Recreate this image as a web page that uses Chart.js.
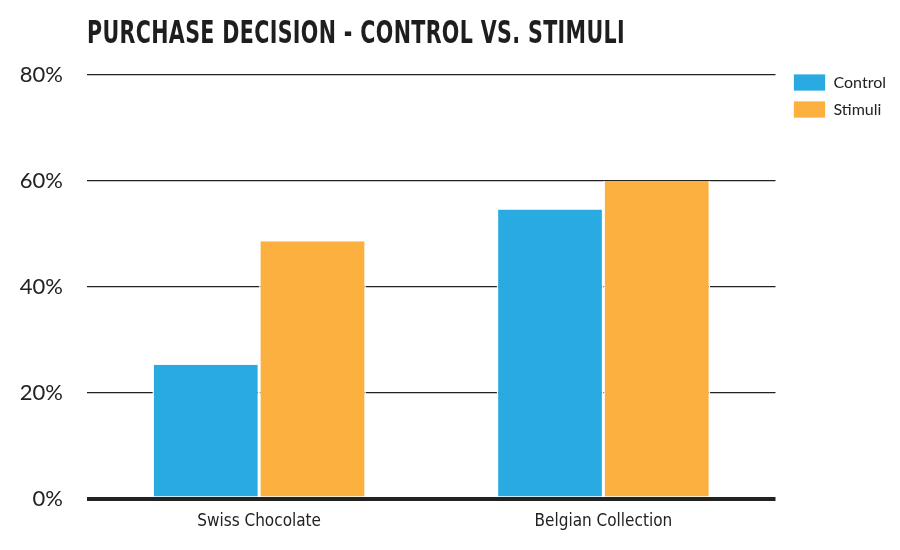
<!DOCTYPE html>
<html>
<head>
<meta charset="utf-8">
<script src="https://cdn.jsdelivr.net/npm/chart.js@4"></script>
<style>
  html,body{margin:0;padding:0;background:#fff;}
  #wrap{position:relative;width:900px;height:550px;}
  #title{position:absolute;left:87px;top:13px;font-family:"DejaVu Sans Condensed","DejaVu Sans",sans-serif;font-weight:bold;font-size:32px;color:#1e1e1e;white-space:nowrap;transform-origin:0 0;letter-spacing:0.5px;}
  canvas{position:absolute;left:0;top:0;}
</style>
</head>
<body>
<div id="wrap">
  <canvas id="c" width="900" height="550"></canvas>
  <div id="title">PURCHASE DECISION - CONTROL VS. STIMULI</div>
</div>
<script>
const categories = ["Swiss Chocolate", "Belgian Collection"];
const controlValues = [25.3, 54.6];
const stimuliValues = [48.6, 60.0];
const seriesNames = ["Control", "Stimuli"];
const yTicks = [0, 20, 40, 60, 80];

const t = document.getElementById('title');
const w = t.getBoundingClientRect().width;
t.style.transform = 'scaleX(' + (538 / w) + ')';

const legendShift = {
  id: 'legendShift',
  afterLayout(chart) {
    if (chart.legend) { chart.legend.top -= 11; chart.legend.bottom -= 11; }
  }
};

new Chart(document.getElementById('c'), {
  type: 'bar',
  data: {
    labels: categories,
    datasets: [
      {label: seriesNames[0], data: controlValues, backgroundColor: '#29abe2', borderColor: '#ffffff', borderWidth: {left:1.5,right:1.5,top:0,bottom:0}, borderSkipped: false},
      {label: seriesNames[1], data: stimuliValues, backgroundColor: '#fbb040', borderColor: '#ffffff', borderWidth: {left:1.5,right:1.5,top:0,bottom:0}, borderSkipped: false}
    ]
  },
  plugins: [legendShift],
  options: {
    responsive: false,
    animation: false,
    layout: {padding: {top: 75, right: 4, left: 0, bottom: 13}},
    datasets: {bar: {categoryPercentage: 0.62, barPercentage: 1.0}},
    plugins: {
      title: {display: false},
      tooltip: {enabled: false},
      legend: {
        position: 'right',
        align: 'start',
        labels: {
          boxWidth: 32, boxHeight: 17, padding: 10,
          color: '#222',
          font: {family: 'Lato, "Open Sans", sans-serif', size: 16}
        }
      }
    },
    scales: {
      x: {
        grid: {display: false},
        border: {display: false},
        ticks: {color: '#222', padding: 5, font: {family: '"Liberation Sans Narrow", "DejaVu Sans Condensed", Lato, sans-serif', size: 17}}
      },
      y: {
        min: 0, max: 80,
        afterBuildTicks: (axis) => { axis.ticks = yTicks.map(v => ({value: v})); },
        afterFit: (s) => { s.width = 87; },
        border: {display: false},
        grid: {
          drawTicks: false,
          color: '#222',
          lineWidth: (ctx) => (ctx.tick && ctx.tick.value === 0) ? 4 : 1.3
        },
        ticks: {
          color: '#222', padding: 24,
          font: {family: 'Lato, sans-serif', size: 22},
          callback: (v) => v + '%'
        }
      },
      y2: {
        position: 'right',
        display: true,
        grid: {display: false},
        border: {display: false},
        ticks: {display: false},
        afterFit: (s) => { s.width = 8; }
      }
    }
  }
});
</script>
</body>
</html>
